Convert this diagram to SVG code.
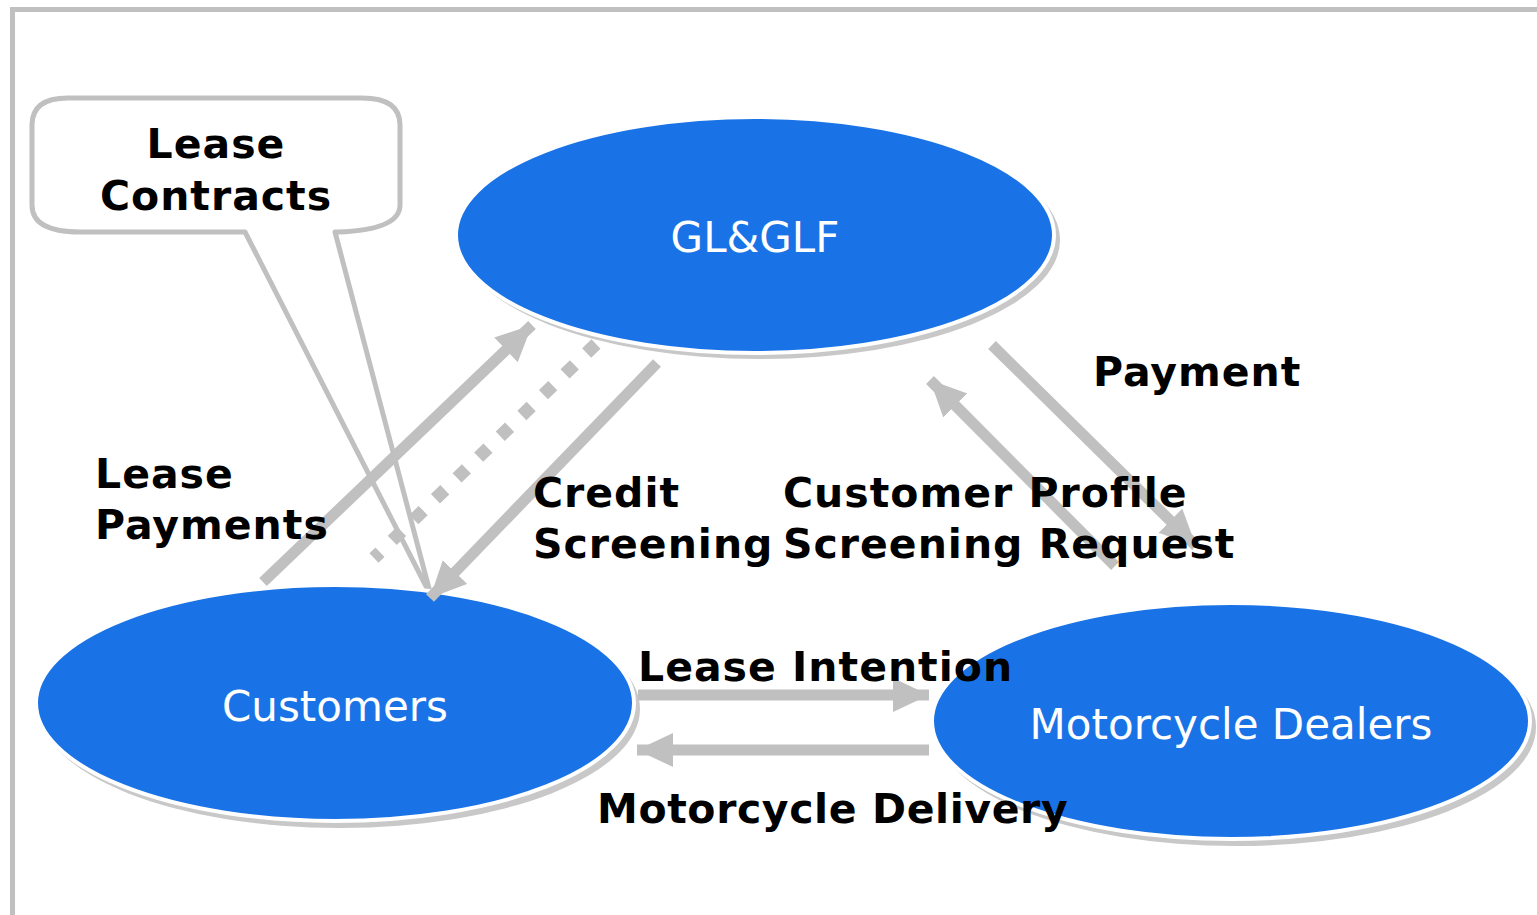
<svg xmlns="http://www.w3.org/2000/svg" width="1537" height="915" viewBox="0 0 1537 915">
<defs>
<style>
.lbl{font-family:"DejaVu Sans","Liberation Sans",sans-serif;font-weight:bold;font-size:41px;letter-spacing:1px;fill:#000}
.node-text{font-family:"DejaVu Sans","Liberation Sans",sans-serif;font-size:42px;fill:#fff;text-anchor:middle}
.shadow{fill:#c8c8c8}
.node{fill:#1a73e6;stroke:#fff;stroke-width:4}
.conn{stroke:#c0c0c0;stroke-width:11;fill:none}
</style>
<marker id="ah" markerUnits="userSpaceOnUse" markerWidth="40" markerHeight="36" refX="36" refY="17" orient="auto">
<path d="M0,0 L36,17 L0,34 Z" fill="#c0c0c0"/>
</marker>
</defs>
<rect x="12.5" y="9.5" width="1600" height="1000" fill="#fff" stroke="#c0c0c0" stroke-width="5"/>

<g id="callout">
<path d="M245,232 L80,232 Q32,232 32,205 L32,125 Q32,98 68,98 L362,98 Q400,98 400,125 L400,205 Q400,230 338,232 L335,232 L431,596 Z" fill="#fff" stroke="#c0c0c0" stroke-width="5" stroke-linejoin="round"/>
<text class="lbl" x="216" y="158" text-anchor="middle">Lease</text>
<text class="lbl" x="216" y="210" text-anchor="middle">Contracts</text>
</g>

<g id="gl-glf">
<ellipse class="shadow" cx="760" cy="240" rx="300" ry="119"/>
<ellipse class="node" cx="755" cy="235" rx="299" ry="118"/>
<text class="node-text" x="755" y="252">GL&amp;GLF</text>
</g>

<g id="customers">
<ellipse class="shadow" cx="340" cy="709" rx="300" ry="119"/>
<ellipse class="node" cx="335" cy="703" rx="299" ry="118"/>
<text class="node-text" x="335" y="721">Customers</text>
</g>

<g id="dealers">
<ellipse class="shadow" cx="1236" cy="727" rx="300" ry="119"/>
<ellipse class="node" cx="1231" cy="721" rx="299" ry="118"/>
<text class="node-text" x="1231" y="739">Motorcycle Dealers</text>
</g>

<g id="connectors">
<line class="conn" x1="263" y1="582" x2="532" y2="325" marker-end="url(#ah)"/>
<line x1="596" y1="344" x2="374" y2="558" stroke="#c0c0c0" stroke-width="13" stroke-dasharray="13 17" fill="none"/>
<line class="conn" x1="657" y1="363" x2="430" y2="598" marker-end="url(#ah)"/>
<line class="conn" x1="992" y1="345" x2="1196" y2="546" marker-end="url(#ah)"/>
<line class="conn" x1="1115" y1="566" x2="930" y2="380" marker-end="url(#ah)"/>
<line class="conn" x1="638" y1="695" x2="929" y2="695" stroke-width="13" marker-end="url(#ah)"/>
<line class="conn" x1="929" y1="750" x2="637" y2="750" stroke-width="13" marker-end="url(#ah)"/>
</g>

<g id="labels">
<text class="lbl" x="95" y="488">Lease</text>
<text class="lbl" x="95" y="539">Payments</text>
<text class="lbl" x="533" y="507">Credit</text>
<text class="lbl" x="533" y="558">Screening</text>
<text class="lbl" x="783" y="507">Customer Profile</text>
<text class="lbl" x="783" y="558">Screening Request</text>
<text class="lbl" x="1093" y="386">Payment</text>
<text class="lbl" x="638" y="681">Lease Intention</text>
<text class="lbl" x="597" y="823" style="letter-spacing:0.6px">Motorcycle Delivery</text>
</g>
</svg>
